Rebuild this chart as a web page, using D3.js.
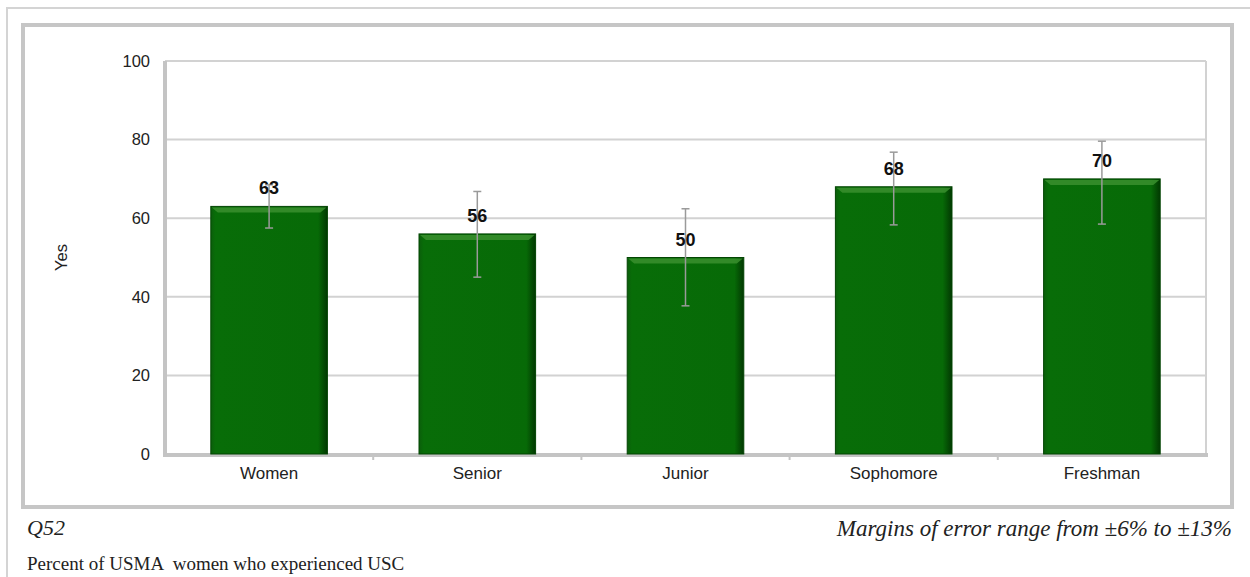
<!DOCTYPE html>
<html>
<head>
<meta charset="utf-8">
<script src="https://cdn.jsdelivr.net/npm/d3@7"></script>
<style>
  body { margin: 0; background: #fff; }
  svg { display: block; }
</style>
</head>
<body>
<svg id="chart" width="1250" height="577"></svg>
<script>
// Chart data
const categories = ["Women", "Senior", "Junior", "Sophomore", "Freshman"];
const yesValues = [63, 56, 50, 68, 70];
const errLow = [57.5, 45, 37.7, 58.3, 58.5];
const errHigh = [68.5, 66.8, 62.4, 76.8, 79.6];
const yTicks = [0, 20, 40, 60, 80, 100];

const svg = d3.select("#chart");

// Outer page frame (top + left only)
svg.append("path")
  .attr("d", "M7,577 L7,8 L1250,8")
  .attr("fill", "none")
  .attr("stroke", "#d4d4d4")
  .attr("stroke-width", 2);

// Inner chart frame
svg.append("rect")
  .attr("x", 23).attr("y", 25)
  .attr("width", 1209).attr("height", 482)
  .attr("fill", "#fff")
  .attr("stroke", "#c6c6c6")
  .attr("stroke-width", 4);

const plot = { left: 165, right: 1206, top: 61, bottom: 454 };

const x = d3.scaleBand()
  .domain(categories)
  .range([plot.left, plot.right])
  .paddingInner(0.44)
  .paddingOuter(0.22);

const y = d3.scaleLinear()
  .domain([0, 100])
  .range([plot.bottom, plot.top]);

// Gridlines
svg.append("g")
  .selectAll("line")
  .data(yTicks.filter(d => d > 0))
  .join("line")
  .attr("x1", plot.left).attr("x2", plot.right)
  .attr("y1", d => y(d)).attr("y2", d => y(d))
  .attr("stroke", "#d2d2d2")
  .attr("stroke-width", 2);

// Right border of plot area
svg.append("line")
  .attr("x1", plot.right).attr("x2", plot.right)
  .attr("y1", plot.top).attr("y2", plot.bottom)
  .attr("stroke", "#d2d2d2")
  .attr("stroke-width", 2);

// Y axis
const yAxis = svg.append("g")
  .attr("transform", `translate(${plot.left},0)`)
  .call(d3.axisLeft(y).tickValues(yTicks).tickSize(0).tickPadding(15));
yAxis.select(".domain")
  .attr("stroke", "#c4c4c4")
  .attr("stroke-width", 4)
  .attr("d", `M0,${plot.top}V${plot.bottom + 2}`);
yAxis.selectAll("text")
  .attr("font-family", "Arial, 'Liberation Sans', sans-serif")
  .attr("font-size", "16.5px")
  .attr("fill", "#222");

// X axis
const xAxis = svg.append("g")
  .attr("transform", `translate(0,${plot.bottom})`)
  .call(d3.axisBottom(x).tickSize(0).tickPadding(13));
xAxis.select(".domain")
  .attr("stroke", "#c4c4c4")
  .attr("stroke-width", 4)
  .attr("d", `M${plot.left - 2},1H${plot.right + 2}`);
xAxis.selectAll("text")
  .attr("font-family", "Arial, 'Liberation Sans', sans-serif")
  .attr("font-size", "17px")
  .attr("fill", "#222");

// Small tick marks between categories
const step = x.step();
svg.append("g")
  .selectAll("line")
  .data(categories.slice(1))
  .join("line")
  .attr("x1", d => x(d) - step * x.paddingInner() / 2)
  .attr("x2", d => x(d) - step * x.paddingInner() / 2)
  .attr("y1", plot.bottom + 2).attr("y2", plot.bottom + 6)
  .attr("stroke", "#c4c4c4")
  .attr("stroke-width", 2);

// Y axis title
svg.append("text")
  .attr("transform", `translate(67,${(plot.top + plot.bottom) / 2}) rotate(-90)`)
  .attr("text-anchor", "middle")
  .attr("font-family", "Arial, 'Liberation Sans', sans-serif")
  .attr("font-size", "16.5px")
  .attr("fill", "#222")
  .text("Yes");

// Bar gradient
const defs = svg.append("defs");
const grad = defs.append("linearGradient")
  .attr("id", "barGrad")
  .attr("x1", 0).attr("x2", 1).attr("y1", 0).attr("y2", 0);
grad.append("stop").attr("offset", "0%").attr("stop-color", "#0b5e0b");
grad.append("stop").attr("offset", "4%").attr("stop-color", "#086d08");
grad.append("stop").attr("offset", "92%").attr("stop-color", "#076a07");
grad.append("stop").attr("offset", "100%").attr("stop-color", "#023802");

const barData = categories.map((c, i) => ({
  cat: c, value: yesValues[i], lo: errLow[i], hi: errHigh[i]
}));

const bars = svg.append("g")
  .selectAll("g")
  .data(barData)
  .join("g");

bars.append("rect")
  .attr("x", d => x(d.cat))
  .attr("y", d => y(d.value))
  .attr("width", x.bandwidth())
  .attr("height", d => y(0) - y(d.value))
  .attr("fill", "url(#barGrad)")
  .attr("stroke", "#034503")
  .attr("stroke-width", 1);

// Bevel highlight along the top
bars.append("path")
  .attr("d", d => {
    const x0 = x(d.cat), x1 = x0 + x.bandwidth(), t = y(d.value);
    return `M${x0 + 1},${t + 1}L${x1 - 1},${t + 1}L${x1 - 7},${t + 6}L${x0 + 7},${t + 6}Z`;
  })
  .attr("fill", "#3a8f2e")
  .attr("opacity", 0.85);

// Error bars
const cap = 4;
const errG = bars.append("g")
  .attr("stroke", "#9a9a9a")
  .attr("stroke-width", 1.5);
errG.append("line")
  .attr("x1", d => x(d.cat) + x.bandwidth() / 2)
  .attr("x2", d => x(d.cat) + x.bandwidth() / 2)
  .attr("y1", d => y(d.hi))
  .attr("y2", d => y(d.lo));
errG.append("line")
  .attr("x1", d => x(d.cat) + x.bandwidth() / 2 - cap)
  .attr("x2", d => x(d.cat) + x.bandwidth() / 2 + cap)
  .attr("y1", d => y(d.hi)).attr("y2", d => y(d.hi));
errG.append("line")
  .attr("x1", d => x(d.cat) + x.bandwidth() / 2 - cap)
  .attr("x2", d => x(d.cat) + x.bandwidth() / 2 + cap)
  .attr("y1", d => y(d.lo)).attr("y2", d => y(d.lo));

// Value labels
bars.append("text")
  .attr("x", d => x(d.cat) + x.bandwidth() / 2)
  .attr("y", d => y(d.value) - 12)
  .attr("text-anchor", "middle")
  .attr("font-family", "Arial, 'Liberation Sans', sans-serif")
  .attr("font-size", "18px")
  .attr("font-weight", "bold")
  .attr("fill", "#111")
  .text(d => d.value);

// Footer notes
svg.append("text")
  .attr("x", 27).attr("y", 535)
  .attr("font-family", "'Liberation Serif', 'Times New Roman', serif")
  .attr("font-style", "italic")
  .attr("font-size", "22px")
  .attr("fill", "#222")
  .text("Q52");

svg.append("text")
  .attr("x", 27).attr("y", 570)
  .attr("font-family", "'Liberation Serif', 'Times New Roman', serif")
  .attr("font-size", "19px")
  .attr("fill", "#222")
  .attr("xml:space", "preserve")
  .text("Percent of USMA  women who experienced USC");

svg.append("text")
  .attr("x", 1232).attr("y", 536)
  .attr("text-anchor", "end")
  .attr("font-family", "'Liberation Serif', 'Times New Roman', serif")
  .attr("font-style", "italic")
  .attr("font-size", "23px")
  .attr("fill", "#222")
  .text("Margins of error range from \u00b16% to \u00b113%");
</script>
</body>
</html>
